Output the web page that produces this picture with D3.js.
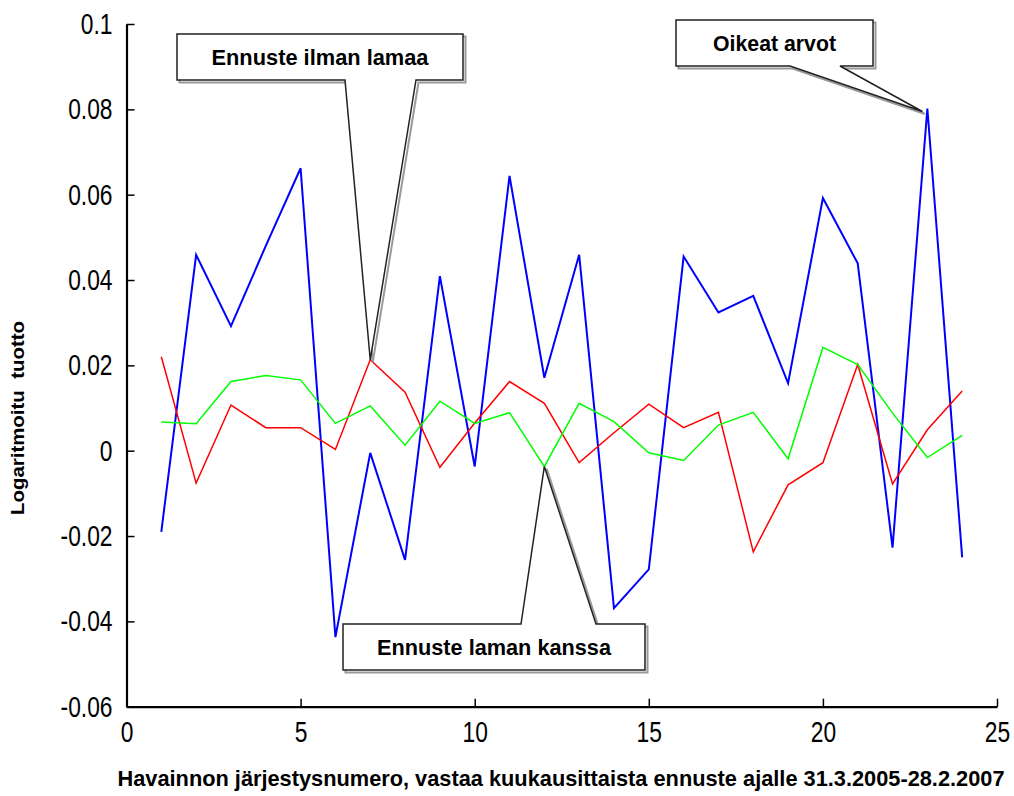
<!DOCTYPE html>
<html>
<head>
<meta charset="utf-8">
<script src="https://cdn.jsdelivr.net/npm/d3@7"></script>
<style>
  html, body { margin: 0; padding: 0; background: #fff; }
  svg { display: block; }
</style>
</head>
<body>
<svg id="chart" width="1014" height="796"></svg>
<script>
// ---- data ----
const observations = d3.range(1, 25);
const actualValues = [-0.019, 0.0459, 0.0292, 0.048, 0.0662, -0.0437, -0.0005, -0.0256, 0.0409, -0.0037, 0.0644, 0.0171, 0.0459, -0.0369, -0.0278, 0.0455, 0.0324, 0.0363, 0.0158, 0.0592, 0.0439, -0.0227, 0.0802, -0.025];
const forecastNoRecession = [0.022, -0.0076, 0.0107, 0.0054, 0.0054, 0.0003, 0.0213, 0.0137, -0.0039, 0.0065, 0.0162, 0.0111, -0.0028, 0.0042, 0.0109, 0.0054, 0.009, -0.0237, -0.008, -0.0028, 0.0202, -0.0078, 0.0049, 0.014];
const forecastRecession = [0.0067, 0.0063, 0.0162, 0.0176, 0.0166, 0.0064, 0.0105, 0.0013, 0.0116, 0.0064, 0.0089, -0.0037, 0.0111, 0.0068, -0.0005, -0.0023, 0.006, 0.009, -0.0019, 0.0242, 0.0202, 0.0088, -0.0016, 0.0036];
const xTicks = [0, 5, 10, 15, 20, 25];
const yTicks = [-0.06, -0.04, -0.02, 0, 0.02, 0.04, 0.06, 0.08, 0.1];
const yTickLabels = ["-0.06", "-0.04", "-0.02", "0", "0.02", "0.04", "0.06", "0.08", "0.1"];
const xTitle = "Havainnon järjestysnumero, vastaa kuukausittaista ennuste ajalle 31.3.2005-28.2.2007";
const yTitle = "Logaritmoitu  tuotto";

const svg = d3.select("#chart");
const x = d3.scaleLinear().domain([0, 25]).range([126.5, 997]);
const y = d3.scaleLinear().domain([-0.06, 0.1]).range([706.7, 24]);

const tickFont = "'Liberation Sans', Arial, sans-serif";
const squeeze = 0.76;

// axes (MATLAB style: inward ticks, only left and bottom)
const xAxis = d3.axisBottom(x).tickValues(xTicks).tickSizeInner(-8).tickSizeOuter(0).tickPadding(14).tickFormat(d3.format("d"));
const gx = svg.append("g").attr("transform", `translate(0,${y(-0.06)})`).call(xAxis);
gx.select(".domain").attr("stroke", "#000").attr("stroke-width", 2.2);
gx.selectAll(".tick line").attr("stroke", "#000").attr("stroke-width", 1.5);
gx.selectAll(".tick text").attr("font-family", tickFont).attr("font-size", 30).attr("fill", "#000")
  .attr("dy", "0.78em").attr("y", 12)
  .attr("transform", `scale(${squeeze},1)`);

const yAxis = d3.axisLeft(y).tickValues(yTicks).tickSizeInner(-8).tickSizeOuter(0).tickPadding(14)
  .tickFormat((d, i) => yTickLabels[i]);
const gy = svg.append("g").attr("transform", `translate(${x(0)},0)`).call(yAxis);
gy.select(".domain").attr("stroke", "#000").attr("stroke-width", 2.2);
gy.selectAll(".tick line").attr("stroke", "#000").attr("stroke-width", 1.5);
gy.selectAll(".tick text").attr("font-family", tickFont).attr("font-size", 30).attr("fill", "#000")
  .attr("x", -14 / squeeze).attr("transform", `scale(${squeeze},1)`);

// lines
const line = d3.line().x((d, i) => x(observations[i])).y(d => y(d));
svg.append("path").datum(actualValues).attr("d", line).attr("fill", "none").attr("stroke", "#0000ff").attr("stroke-width", 2);
svg.append("path").datum(forecastNoRecession).attr("d", line).attr("fill", "none").attr("stroke", "#ff0000").attr("stroke-width", 1.5);
svg.append("path").datum(forecastRecession).attr("d", line).attr("fill", "none").attr("stroke", "#00ff00").attr("stroke-width", 1.5);

// callouts
function callout(box, p1, p2, tip, label, textW, pointerTop) {
  const [l, t, r, b] = box;
  let d;
  if (!pointerTop) {
    d = `M${l},${t}H${r}V${b}H${p2}L${tip[0]},${tip[1]}L${p1},${b}H${l}Z`;
  } else {
    d = `M${l},${t}H${p1}L${tip[0]},${tip[1]}L${p2},${t}H${r}V${b}H${l}Z`;
  }
  const g = svg.append("g");
  g.append("path").attr("d", d).attr("transform", "translate(2.5,2.5)").attr("fill", "none").attr("stroke", "#9a9a9a").attr("stroke-width", 2);
  g.append("path").attr("d", d).attr("fill", "#fff").attr("stroke", "#222").attr("stroke-width", 1.5).attr("stroke-linejoin", "miter");
  g.append("text").attr("x", (l + r) / 2).attr("y", (t + b) / 2 + 8)
    .attr("text-anchor", "middle").attr("font-family", "'Liberation Sans', Arial, sans-serif")
    .attr("font-weight", "bold").attr("font-size", 22).attr("fill", "#000")
    .attr("textLength", textW).attr("lengthAdjust", "spacingAndGlyphs").text(label);
}
callout([177, 34, 463, 80], 345, 416, [x(7), y(forecastNoRecession[6])], "Ennuste ilman lamaa", 217, false);
callout([676, 20, 873, 66], 790, 840, [x(23) - 5, y(actualValues[22]) + 3], "Oikeat arvot", 123, false);
callout([343, 624, 645, 670], 521, 596, [x(12), y(forecastRecession[11])], "Ennuste laman kanssa", 234, true);

// axis titles
svg.append("text").attr("x", 561).attr("y", 786).attr("text-anchor", "middle")
  .attr("font-family", "'Liberation Sans', Arial, sans-serif").attr("font-weight", "bold").attr("font-size", 22)
  .attr("textLength", 887).attr("lengthAdjust", "spacingAndGlyphs").text(xTitle);
svg.append("text").attr("transform", "translate(24,418) rotate(-90)").attr("text-anchor", "middle")
  .attr("font-family", "'Liberation Sans', Arial, sans-serif").attr("font-weight", "bold").attr("font-size", 18)
  .attr("textLength", 194).attr("lengthAdjust", "spacingAndGlyphs").attr("xml:space", "preserve").text(yTitle);
</script>
</body>
</html>
